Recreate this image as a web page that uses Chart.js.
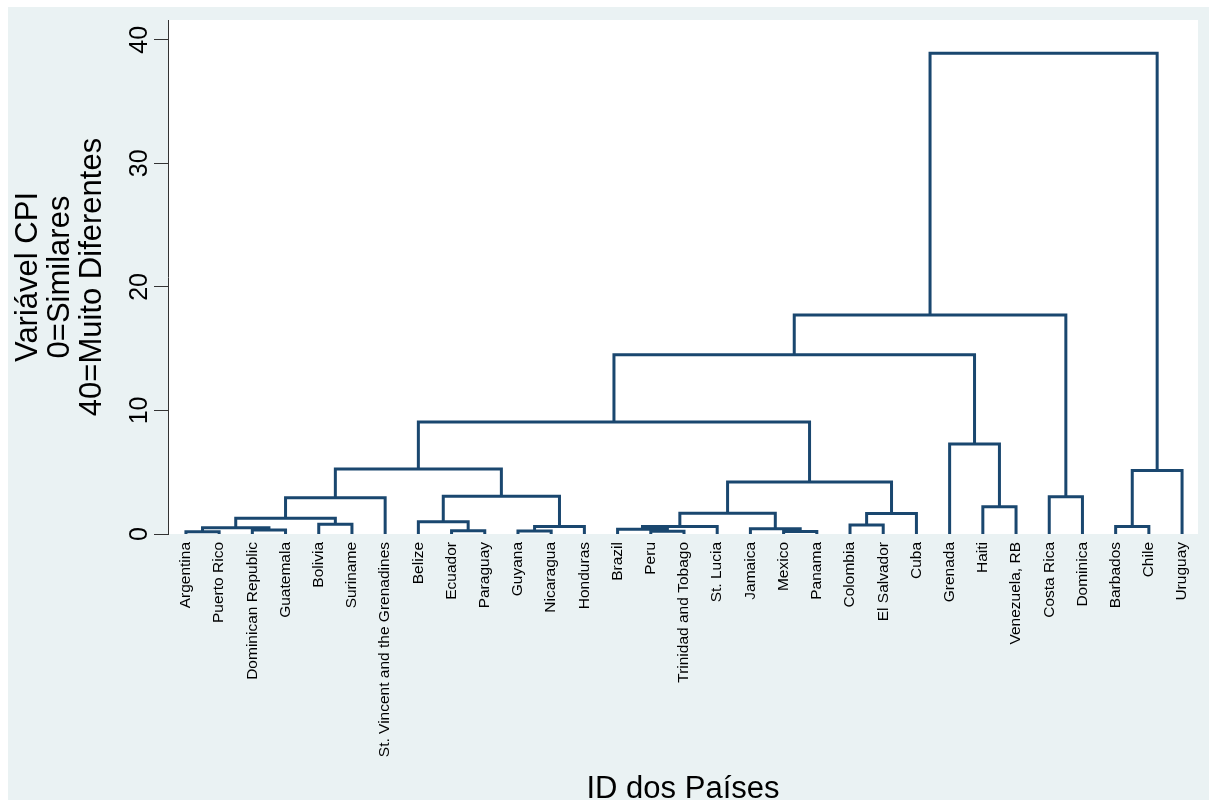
<!DOCTYPE html>
<html>
<head>
<meta charset="utf-8">
<script src="https://cdn.jsdelivr.net/npm/chart.js@4.4.1/dist/chart.umd.min.js"></script>
<style>
  html, body { margin: 0; padding: 0; background: #fff; }
  #wrap { position: relative; width: 1217px; height: 807px; }
</style>
</head>
<body>
<div id="wrap"><canvas id="dendro" width="1217" height="807"></canvas></div>
<script>
// Hierarchical clustering dendrogram of CPI, Latin America & Caribbean.

// Leaves, in dendrogram order
var countries = [
  'Argentina', 'Puerto Rico', 'Dominican Republic', 'Guatemala', 'Bolivia',
  'Suriname', 'St. Vincent and the Grenadines', 'Belize', 'Ecuador', 'Paraguay',
  'Guyana', 'Nicaragua', 'Honduras', 'Brazil', 'Peru', 'Trinidad and Tobago',
  'St. Lucia', 'Jamaica', 'Mexico', 'Panama', 'Colombia', 'El Salvador', 'Cuba',
  'Grenada', 'Haiti', 'Venezuela, RB', 'Costa Rica', 'Dominica', 'Barbados',
  'Chile', 'Uruguay'
];

// Merge steps: a string is a country, a number is an earlier merge step
var mergeLeft = [
  'Argentina', 'Dominican Republic', 0, 'Bolivia', 2, 4,
  'Ecuador', 'Belize', 'Guyana', 8, 7, 5,
  'Peru', 'Brazil', 13, 'Mexico', 'Jamaica', 14,
  'Colombia', 18, 17, 11, 'Haiti', 'Grenada',
  21, 'Costa Rica', 24, 'Barbados', 27, 26
];
var mergeRight = [
  'Puerto Rico', 'Guatemala', 1, 'Suriname', 3, 'St. Vincent and the Grenadines',
  'Paraguay', 6, 'Nicaragua', 'Honduras', 9, 10,
  'Trinidad and Tobago', 12, 'St. Lucia', 'Panama', 15, 16,
  'El Salvador', 'Cuba', 19, 20, 'Venezuela, RB', 22,
  23, 'Dominica', 25, 'Chile', 'Uruguay', 28
];
var mergeHeight = [
  0.19, 0.32, 0.51, 0.78, 1.27, 2.94,
  0.27, 1.0, 0.25, 0.6, 3.05, 5.26,
  0.22, 0.38, 0.6, 0.2, 0.43, 1.67,
  0.73, 1.65, 4.2, 9.07, 2.21, 7.29,
  14.5, 3.02, 17.73, 0.6, 5.13, 38.9
];

var yTicks = [0, 10, 20, 30, 40];

var NAVY = '#1a476f';
var BG = '#eaf2f3';
var FONT = 'Arial, "Liberation Sans", Helvetica, sans-serif';

// x position / height of a node (leaf name or merge index)
var mergeX = [];
function nodeX(n) {
  return typeof n === 'string' ? countries.indexOf(n) + 1 : mergeX[n];
}
function nodeH(n) {
  return typeof n === 'string' ? 0 : mergeHeight[n];
}

var datasets = [];
for (var i = 0; i < mergeHeight.length; i++) {
  var xa = nodeX(mergeLeft[i]), xb = nodeX(mergeRight[i]);
  mergeX[i] = (xa + xb) / 2;
  datasets.push({
    data: [
      { x: xa, y: nodeH(mergeLeft[i]) },
      { x: xa, y: mergeHeight[i] },
      { x: xb, y: mergeHeight[i] },
      { x: xb, y: nodeH(mergeRight[i]) }
    ]
  });
}

// graph region + plot region backgrounds
var bgPlugin = {
  id: 'bg',
  beforeDraw: function (chart) {
    var ctx = chart.ctx, a = chart.chartArea;
    ctx.save();
    ctx.fillStyle = '#fff';
    ctx.fillRect(0, 0, chart.width, chart.height);
    ctx.fillStyle = BG;
    ctx.fillRect(8, 7, chart.width - 16, chart.height - 14);
    ctx.fillStyle = '#fff';
    ctx.fillRect(a.left, a.top, a.right - a.left, a.bottom - a.top);
    ctx.restore();
  }
};

// vertical y tick labels
var yLabelPlugin = {
  id: 'yLabels',
  afterDraw: function (chart) {
    var ctx = chart.ctx, ys = chart.scales.y;
    ctx.save();
    ctx.fillStyle = '#000';
    ctx.font = '25px ' + FONT;
    ctx.textAlign = 'center';
    ctx.textBaseline = 'alphabetic';
    yTicks.forEach(function (v) {
      ctx.save();
      ctx.translate(147, ys.getPixelForValue(v));
      ctx.rotate(-Math.PI / 2);
      ctx.fillText(String(v), 0, 0);
      ctx.restore();
    });
    ctx.restore();
  }
};

new Chart(document.getElementById('dendro'), {
  type: 'line',
  data: { datasets: datasets },
  options: {
    responsive: false,
    animation: false,
    events: [],
    layout: { padding: { left: 8, top: 20, right: 19, bottom: 0 } },
    plugins: { legend: { display: false }, tooltip: { enabled: false } },
    elements: {
      point: { radius: 0 },
      line: { borderWidth: 3, tension: 0, borderColor: NAVY, borderJoinStyle: 'miter', borderCapStyle: 'butt', fill: false }
    },
    scales: {
      x: {
        type: 'linear',
        min: 0.46,
        max: 31.48,
        afterBuildTicks: function (s) {
          s.ticks = countries.map(function (c, i) { return { value: i + 1 }; });
        },
        afterFit: function (s) { s.height = 273; },
        grid: { display: false, drawTicks: false },
        border: { display: false },
        ticks: {
          autoSkip: false, minRotation: 90, maxRotation: 90, padding: 8,
          color: '#000', font: { family: FONT, size: 15.5 },
          callback: function (v) { return countries[v - 1]; }
        },
        title: {
          display: true, text: 'ID dos Países', color: '#000',
          font: { family: FONT, size: 31, lineHeight: 1 },
          padding: { top: 0, bottom: 2 }
        }
      },
      y: {
        min: 0,
        max: 41.6,
        afterBuildTicks: function (s) {
          s.ticks = yTicks.map(function (v) { return { value: v }; });
        },
        afterFit: function (s) { s.width = 160; },
        grid: { drawOnChartArea: false, drawTicks: true, tickLength: 14, color: '#333', lineWidth: 1 },
        border: { display: true, color: '#333', width: 1 },
        ticks: { color: 'rgba(0,0,0,0)', font: { size: 25 }, padding: 0 },
        title: {
          display: true,
          text: ['Variável CPI', '0=Similares', '40=Muito Diferentes'],
          color: '#000',
          font: { family: FONT, size: 31, lineHeight: 32 / 31 },
          padding: { top: 4, bottom: 0 }
        }
      }
    }
  },
  plugins: [bgPlugin, yLabelPlugin]
});
</script>
</body>
</html>
